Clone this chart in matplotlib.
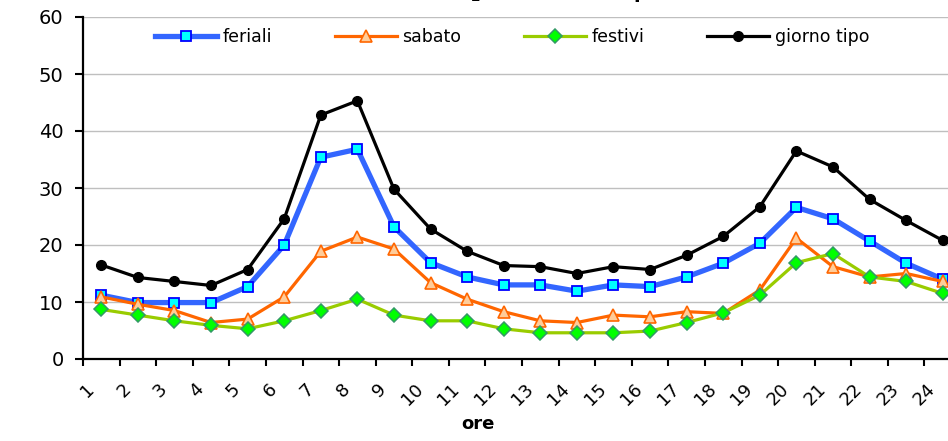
import matplotlib
matplotlib.use("Agg")
import matplotlib.pyplot as plt
import numpy as np

ore = list(range(1, 25))
feriali = [11.2, 9.9, 9.9, 9.9, 12.7, 20.0, 35.4, 36.8, 23.2, 16.9, 14.4, 13.0,
           13.0, 11.9, 13.0, 12.7, 14.4, 16.8, 20.3, 26.6, 24.6, 20.7, 16.8, 14.0]
sabato = [10.9, 9.6, 8.5, 6.4, 7.0, 10.9, 18.9, 21.4, 19.3, 13.4, 10.5, 8.3,
          6.7, 6.4, 7.7, 7.4, 8.3, 8.0, 12.1, 21.2, 16.2, 14.4, 15.0, 13.6]
festivi = [8.7, 7.7, 6.7, 5.9, 5.3, 6.7, 8.5, 10.5, 7.7, 6.7, 6.7, 5.3,
           4.6, 4.6, 4.6, 4.9, 6.4, 8.1, 11.2, 16.9, 18.5, 14.4, 13.6, 11.5]
giorno_tipo = [16.5, 14.3, 13.6, 12.9, 15.7, 24.6, 42.8, 45.3, 29.8, 22.8, 18.9, 16.4,
               16.2, 15.0, 16.2, 15.7, 18.2, 21.5, 26.7, 36.5, 33.7, 28.0, 24.3, 20.8]

fig = plt.figure(figsize=(9.48, 4.41), dpi=100)
ax = fig.add_axes([83/948, 82/441, 878/948, 342/441])

ax.plot(ore, feriali, color="#3366FF", lw=3.8, marker="s", ms=7.5,
        mfc="#00FFFF", mec="#0000FF", mew=1.3, label="feriali", zorder=3)
ax.plot(ore, sabato, color="#FF6600", lw=2.3, marker="^", ms=9,
        mfc="#FFCC99", mec="#FF6600", mew=1.2, label="sabato", zorder=4)
ax.plot(ore, festivi, color="#99CC00", lw=2.3, marker="D", ms=7,
        mfc="#00FF00", mec="#339966", mew=1.1, label="festivi", zorder=5)
ax.plot(ore, giorno_tipo, color="black", lw=2.3, marker="o", ms=7,
        label="giorno tipo", zorder=6)

ax.set_yticks(range(0, 61, 10))
ax.yaxis.grid(True, color="#BFBFBF", lw=1)
ax.set_axisbelow(True)

# rotated labels sit a bit left of each category, as in the original
ax.set_xticks(np.array(ore) - 0.45)
ax.set_xticklabels([str(h) for h in ore], rotation=45, ha="right",
                   rotation_mode="anchor", fontsize=13)
ax.set_xticks(np.arange(0.5, 25, 1), minor=True)
ax.tick_params(axis="x", which="major", length=0, pad=15)
ax.tick_params(axis="x", which="minor", length=5, width=1.5, direction="out")
ax.tick_params(axis="y", length=6, width=1.5, direction="out", labelsize=14, pad=8)

ax.set_xlim(0.5, 24.5)
ax.set_ylim(0, 60)

for s in ["top", "right"]:
    ax.spines[s].set_visible(False)
for s in ["left", "bottom"]:
    ax.spines[s].set_linewidth(1.6)

fig.text(478/948, 8/441, "ore", ha="center", va="bottom",
         fontsize=13, fontweight="bold")

# title, mostly cut off at the top of the picture
fig.text(437/948, 1.004, "NO$_\\mathbf{2}$ medie orarie per", ha="left",
         va="baseline", fontsize=14, fontweight="bold")

fig.legend(loc="center", bbox_to_anchor=(512/948, 1 - 37/441), ncol=4,
           frameon=False, fontsize=12.5, handlelength=3.6, handletextpad=0.3,
           columnspacing=3.6)

fig.savefig("out.png", dpi=100)
